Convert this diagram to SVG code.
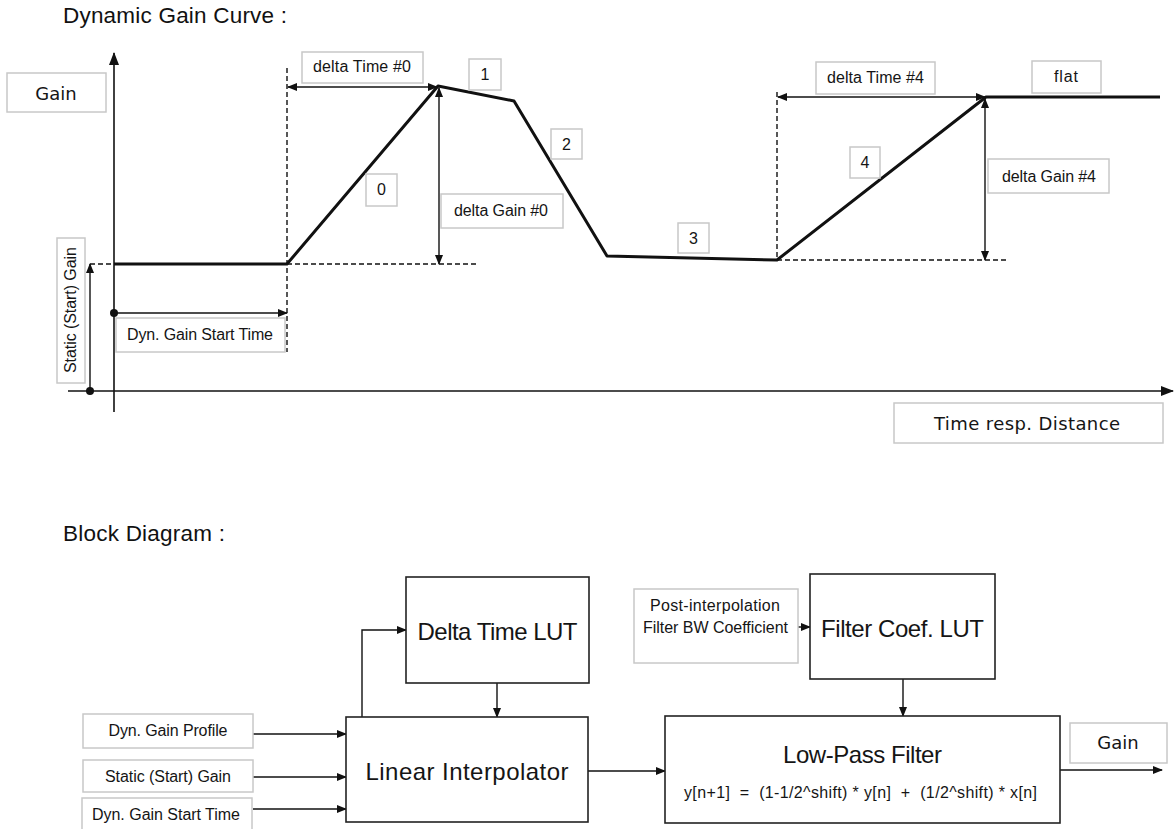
<svg xmlns="http://www.w3.org/2000/svg" width="1174" height="829" viewBox="0 0 1174 829">
<style>
  .title { font-family: "Liberation Sans", Arial, sans-serif; font-size: 22.5px; fill: #111; }
  .lbl { font-family: "Liberation Sans", Arial, sans-serif; font-size: 16px; fill: #151515; }
  .big { font-family: "Liberation Sans", Arial, sans-serif; font-size: 24px; fill: #151515; }
  .vd { font-family: "DejaVu Sans", Verdana, sans-serif; font-size: 18px; fill: #151515; }
  .gbox { fill: #fff; stroke: #c8c8c8; stroke-width: 1.5; }
  .bbox { fill: #fff; stroke: #222; stroke-width: 1.6; }
  .curve { fill: none; stroke: #111; stroke-width: 3; stroke-linejoin: round; }
  .axis { fill: none; stroke: #111; stroke-width: 1.6; }
  .thin { fill: none; stroke: #111; stroke-width: 1.4; }
  .dash { fill: none; stroke: #111; stroke-width: 1.4; stroke-dasharray: 5 3; }
</style>
<defs>
  <marker id="ah" markerUnits="userSpaceOnUse" markerWidth="10" markerHeight="8" refX="9" refY="4" orient="auto-start-reverse">
    <path d="M0,0 L10,4 L0,8 z" fill="#111"/>
  </marker>
  <marker id="ax" markerUnits="userSpaceOnUse" markerWidth="13" markerHeight="10" refX="12" refY="5" orient="auto">
    <path d="M0,0 L13,5 L0,10 z" fill="#111"/>
  </marker>
</defs>
<rect width="1174" height="829" fill="#fff"/>

<text class="title" x="63" y="23" textLength="224">Dynamic Gain Curve :</text>
<text class="title" x="63" y="541" textLength="162">Block Diagram :</text>

<g id="connectors">
  <line class="axis" x1="114" y1="412" x2="114" y2="53" marker-end="url(#ax)"/>
  <line class="axis" x1="68" y1="391" x2="1173" y2="391" marker-end="url(#ax)"/>
  <line class="dash" x1="90" y1="264" x2="114" y2="264"/>
  <line class="dash" x1="287" y1="68" x2="287" y2="352"/>
  <line class="dash" x1="287" y1="264" x2="477" y2="264"/>
  <line class="dash" x1="777" y1="92" x2="777" y2="260"/>
  <line class="dash" x1="777" y1="260" x2="1007" y2="260"/>
  <polyline class="curve" points="114,264 287,264 438,86 514,101 607,256 777,260 986,97 1160,97"/>
  <line class="thin" x1="90" y1="391" x2="90" y2="264" marker-end="url(#ah)"/>
  <circle cx="90" cy="391" r="4" fill="#111"/>
  <line class="thin" x1="114" y1="313" x2="287" y2="313" marker-end="url(#ah)"/>
  <circle cx="114" cy="313" r="4" fill="#111"/>
  <line class="thin" x1="288" y1="87" x2="437" y2="87" marker-start="url(#ah)" marker-end="url(#ah)"/>
  <line class="thin" x1="439" y1="88" x2="439" y2="264" marker-start="url(#ah)" marker-end="url(#ah)"/>
  <line class="thin" x1="778" y1="97" x2="985" y2="97" marker-start="url(#ah)" marker-end="url(#ah)"/>
  <line class="thin" x1="985" y1="99" x2="985" y2="260" marker-start="url(#ah)" marker-end="url(#ah)"/>
  <line class="thin" x1="253" y1="734" x2="346" y2="734" marker-end="url(#ah)"/>
  <line class="thin" x1="253" y1="777" x2="346" y2="777" marker-end="url(#ah)"/>
  <line class="thin" x1="253" y1="809" x2="346" y2="809" marker-end="url(#ah)"/>
  <polyline class="thin" points="362,717 362,630 406,630" marker-end="url(#ah)"/>
  <line class="thin" x1="497" y1="683" x2="497" y2="717" marker-end="url(#ah)"/>
  <line class="thin" x1="588" y1="771" x2="665" y2="771" marker-end="url(#ah)"/>
  <line class="thin" x1="798" y1="627" x2="810" y2="627" marker-end="url(#ah)"/>
  <line class="thin" x1="903" y1="679" x2="903" y2="716" marker-end="url(#ah)"/>
  <line class="thin" x1="1060" y1="770" x2="1162" y2="770" marker-end="url(#ah)"/>
</g>

<g id="label-gain-axis"><rect class="gbox" x="7" y="73" width="99" height="39"/><text class="vd" x="56" y="100" text-anchor="middle">Gain</text></g>
<g id="label-time-axis"><rect class="gbox" x="894" y="403" width="269" height="40"/><text class="vd" x="1027" y="430" text-anchor="middle" textLength="186">Time resp. Distance</text></g>
<g id="label-static-gain"><rect class="gbox" x="57" y="238" width="28" height="145"/><text class="lbl" transform="translate(76,310) rotate(-90)" text-anchor="middle" textLength="126">Static (Start) Gain</text></g>
<g id="label-start-time"><rect class="gbox" x="116" y="318" width="169" height="34"/><text class="lbl" x="200" y="340" text-anchor="middle" textLength="146">Dyn. Gain Start Time</text></g>
<g id="label-dt0"><rect class="gbox" x="302" y="52" width="121" height="31"/><text class="lbl" x="362" y="72" text-anchor="middle" textLength="98">delta Time #0</text></g>
<g id="label-dg0"><rect class="gbox" x="441" y="194" width="122" height="34"/><text class="lbl" x="501" y="216" text-anchor="middle" textLength="94">delta Gain #0</text></g>
<g id="seg-0"><rect class="gbox" x="366" y="174" width="31" height="32"/><text class="lbl" x="381.5" y="195" text-anchor="middle">0</text></g>
<g id="seg-1"><rect class="gbox" x="469" y="59" width="32" height="31"/><text class="lbl" x="485" y="80" text-anchor="middle">1</text></g>
<g id="seg-2"><rect class="gbox" x="551" y="129" width="31" height="30"/><text class="lbl" x="566.5" y="150" text-anchor="middle">2</text></g>
<g id="seg-3"><rect class="gbox" x="678" y="223" width="31" height="30"/><text class="lbl" x="693.5" y="244" text-anchor="middle">3</text></g>
<g id="seg-4"><rect class="gbox" x="850" y="147" width="30" height="31"/><text class="lbl" x="865" y="168" text-anchor="middle">4</text></g>
<g id="label-dt4"><rect class="gbox" x="816" y="62" width="119" height="32"/><text class="lbl" x="875.5" y="83" text-anchor="middle" textLength="97">delta Time #4</text></g>
<g id="label-flat"><rect class="gbox" x="1032" y="61" width="69" height="32"/><text class="lbl" x="1066" y="82" text-anchor="middle" textLength="24">flat</text></g>
<g id="label-dg4"><rect class="gbox" x="988" y="159" width="121" height="34"/><text class="lbl" x="1049" y="182" text-anchor="middle" textLength="94">delta Gain #4</text></g>

<g id="in-profile"><rect class="gbox" x="83" y="714" width="170" height="34"/><text class="lbl" x="168" y="736" text-anchor="middle" textLength="119">Dyn. Gain Profile</text></g>
<g id="in-static"><rect class="gbox" x="83" y="760" width="170" height="32"/><text class="lbl" x="168" y="782" text-anchor="middle" textLength="126">Static (Start) Gain</text></g>
<g id="in-starttime"><rect class="gbox" x="82" y="798" width="170" height="34"/><text class="lbl" x="166" y="820" text-anchor="middle" textLength="148">Dyn. Gain Start Time</text></g>
<g id="delta-time-lut"><rect class="bbox" x="406" y="577" width="183" height="106"/><text class="big" x="497.5" y="640" text-anchor="middle" textLength="160">Delta Time LUT</text></g>
<g id="linear-interpolator"><rect class="bbox" x="346" y="717" width="242" height="105"/><text class="big" x="467" y="780" text-anchor="middle" textLength="203">Linear Interpolator</text></g>
<g id="post-interp"><rect class="gbox" x="634" y="589" width="164" height="74"/><text class="lbl" x="715" y="611" text-anchor="middle" textLength="130">Post-interpolation</text><text class="lbl" x="715.5" y="633" text-anchor="middle" textLength="145">Filter BW Coefficient</text></g>
<g id="filter-coef-lut"><rect class="bbox" x="810" y="574" width="185" height="105"/><text class="big" x="902.5" y="637" text-anchor="middle" textLength="163">Filter Coef. LUT</text></g>
<g id="low-pass-filter"><rect class="bbox" x="665" y="716" width="395" height="107"/><text class="big" x="862.5" y="763" text-anchor="middle" textLength="159">Low-Pass Filter</text><text class="lbl" x="860.5" y="798" text-anchor="middle" textLength="353" xml:space="preserve">y[n+1]  =  (1-1/2^shift) * y[n]  +  (1/2^shift) * x[n]</text></g>
<g id="out-gain"><rect class="gbox" x="1070" y="723" width="97" height="40"/><text class="vd" x="1118" y="749" text-anchor="middle">Gain</text></g>
</svg>
